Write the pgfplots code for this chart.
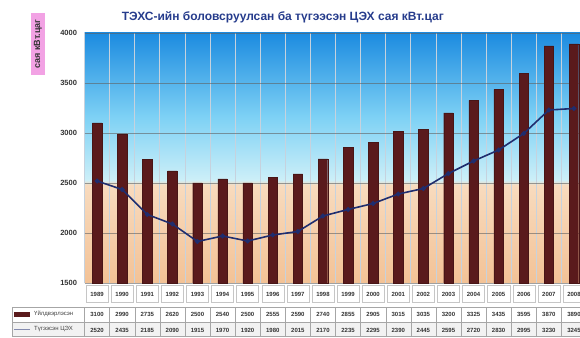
\documentclass[border=0pt]{standalone}
\usepackage{pgfplots}
\pgfplotsset{compat=1.18}
\usepackage{fontspec}
\setmainfont{Liberation Sans}
\definecolor{barc}{HTML}{5A1A1C}
\definecolor{linec}{HTML}{1F2D6E}
\definecolor{bgtop}{HTML}{1C8BE0}
\definecolor{bgmid}{HTML}{7FD2F5}
\definecolor{bgcy}{HTML}{CDEFF8}
\definecolor{bgpa}{HTML}{F8DBBE}
\definecolor{bgpb}{HTML}{F3C296}
\definecolor{pinkc}{HTML}{F2A2E4}
\definecolor{titc}{HTML}{263C8C}
\definecolor{vgrid}{HTML}{C6D2DE}
\pgfdeclareverticalshading{bgshade}{100bp}{color(0bp)=(bgpb); color(25bp)=(bgpb); color(44.6bp)=(bgpa); color(45.6bp)=(bgcy); color(58bp)=(bgmid); color(75bp)=(bgtop); color(100bp)=(bgtop)}
\newcommand{\lab}[3]{#1\\[13pt]#2\\[9pt]#3}
\begin{document}
\begin{tikzpicture}
\useasboundingbox (0,0) rectangle (580pt,337pt);
\fill[gray!10] (12pt,0.5pt) rectangle (580pt,15pt);
\begin{axis}[
  at={(84.5pt,54pt)}, anchor=south west,
  scale only axis, width=502pt, height=250pt,
  xmin=-0.5, xmax=19.5, ymin=1500, ymax=4000,
  ytick={1500,2000,...,4000},
  xtick={0,...,19},
  xticklabels={{\lab{1989}{3100}{2520}},{\lab{1990}{2990}{2435}},{\lab{1991}{2735}{2185}},{\lab{1992}{2620}{2090}},{\lab{1993}{2500}{1915}},{\lab{1994}{2540}{1970}},{\lab{1995}{2500}{1920}},{\lab{1996}{2555}{1980}},{\lab{1997}{2590}{2015}},{\lab{1998}{2740}{2170}},{\lab{1999}{2855}{2235}},{\lab{2000}{2905}{2295}},{\lab{2001}{3015}{2390}},{\lab{2002}{3035}{2445}},{\lab{2003}{3200}{2595}},{\lab{2004}{3325}{2720}},{\lab{2005}{3435}{2830}},{\lab{2006}{3595}{2995}},{\lab{2007}{3870}{3230}},{\lab{2008}{3890}{3245}}},
  xticklabel style={font=\fontsize{6}{7}\selectfont\bfseries, align=center, anchor=north, inner sep=0pt, yshift=-8.8pt, text=black!80},
  yticklabel style={font=\fontsize{7.5}{8}\selectfont\bfseries, text=black!80, xshift=-4pt},
  /pgf/number format/assume math mode=true,
  /pgf/number format/.cd, 1000 sep={}, /pgfplots/.cd,
  major tick length=0pt,
  x tick style={draw=none},
  ymajorgrids, major grid style={gray!75!black, line width=0.5pt, opacity=0.6},
  minor xtick={-0.5,0.5,...,19.5},
  xminorgrids, minor grid style={vgrid, line width=0.7pt},
  axis line style={draw=none},
  axis background/.style={shading=bgshade},
  clip=false,
  title={ТЭХС-ийн боловсруулсан ба түгээсэн ЦЭХ сая кВт.цаг},
  title style={at={(0.395,1)}, anchor=center, yshift=10pt, font=\fontsize{12}{13}\selectfont\bfseries, text=titc},
  ylabel={сая кВт.цаг},
  ylabel style={at={(axis description cs:0,1)}, anchor=center, xshift=-11pt, yshift=46.5pt, fill=pinkc, inner xsep=6pt, inner ysep=3.5pt, font=\fontsize{9}{9}\selectfont\bfseries, text=black!80},
]
% table cells for years
\pgfplotsinvokeforeach{0,...,19}{
  \draw[gray!45] ([yshift=-2pt]axis cs:#1-0.44,1500) rectangle ([yshift=-19pt]axis cs:#1+0.44,1500);
  \draw[gray!70] ([yshift=-24pt]axis cs:#1+0.5,1500) -- ([yshift=-54pt]axis cs:#1+0.5,1500);
}
\draw[gray!70] ([yshift=-24pt]axis cs:-0.5,1500) -- ([yshift=-54pt]axis cs:-0.5,1500);
\addplot[ybar, bar width=9.5pt, fill=barc, draw=barc!80!black] coordinates {
(0,3100) (1,2990) (2,2735) (3,2620) (4,2500) (5,2540) (6,2500) (7,2555) (8,2590) (9,2740)
(10,2855) (11,2905) (12,3015) (13,3035) (14,3200) (15,3325) (16,3435) (17,3595) (18,3870) (19,3890)};
\addplot[linec, line width=1.6pt, mark=*, mark size=1.6pt] coordinates {
(0,2520) (1,2435) (2,2185) (3,2090) (4,1915) (5,1970) (6,1920) (7,1980) (8,2015) (9,2170)
(10,2235) (11,2295) (12,2390) (13,2445) (14,2595) (15,2720) (16,2830) (17,2995) (18,3230) (19,3245)};
\end{axis}
% table frame
\draw[gray!70] (12pt,30pt) -- (580pt,30pt);
\draw[gray!70] (12pt,15pt) -- (580pt,15pt);
\draw[gray!70] (12pt,0.5pt) -- (580pt,0.5pt);
\draw[gray!70] (12pt,30pt) -- (12pt,0.5pt);
\fill[barc] (14pt,20.5pt) rectangle (30pt,25.5pt);
\draw[linec!55, line width=1.5pt] (14pt,7.5pt) -- (30pt,7.5pt);
\node[anchor=west, font=\fontsize{6}{6}\selectfont, inner sep=0pt, text=black!75] at (34pt,23pt) {Үйлдвэрлэсэн};
\node[anchor=west, font=\fontsize{6}{6}\selectfont, inner sep=0pt, text=black!75] at (34pt,7.5pt) {Түгээсэн ЦЭХ};
\end{tikzpicture}
\end{document}
